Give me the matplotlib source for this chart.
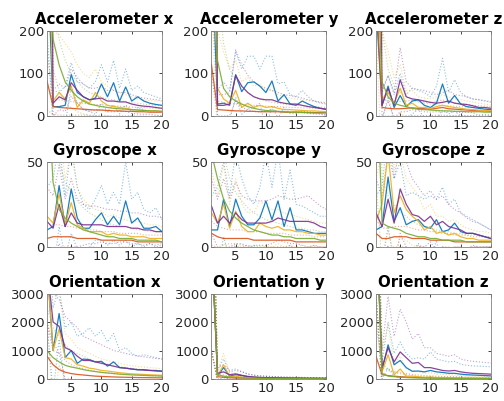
import matplotlib
matplotlib.use("Agg")
import matplotlib.pyplot as plt
import numpy as np

# order of the series: blue, orange, yellow, purple, green (MATLAB default colours)
series_colors = ["#0072BD", "#D95319", "#EDB120", "#7E2F8E", "#77AC30"]
lags = np.arange(1, 21)

titles = ["Accelerometer x", "Accelerometer y", "Accelerometer z",
          "Gyroscope x", "Gyroscope y", "Gyroscope z",
          "Orientation x", "Orientation y", "Orientation z"]
y_limits = [200, 200, 200, 50, 50, 50, 3000, 3000, 3000]
y_ticks = [[0, 100, 200]] * 3 + [[0, 50]] * 3 + [[0, 1000, 2000, 3000]] * 3

# solid lines (mean) and the upper dotted lines (mean + spread) for each panel
acc_x_mean = [
    [400, 22, 22, 25, 97, 55, 45, 38, 42, 75, 45, 78, 35, 68, 35, 45, 35, 30, 27, 25],
    [82, 22, 20, 19, 18, 17, 16, 15, 14, 14, 13, 12, 12, 11, 11, 10, 10, 9, 9, 9],
    [600, 35, 55, 40, 70, 20, 38, 30, 55, 35, 25, 22, 20, 18, 15, 14, 13, 12, 12, 11],
    [2000, 30, 45, 38, 78, 60, 45, 38, 40, 42, 35, 35, 33, 33, 28, 25, 23, 22, 20, 18],
    [400, 180, 120, 80, 60, 45, 35, 28, 25, 22, 20, 18, 17, 16, 15, 14, 13, 12, 12, 11],
]
acc_x_upper = [
    [600, 60, 55, 70, 125, 80, 75, 65, 80, 120, 80, 130, 65, 110, 60, 70, 55, 50, 45, 40],
    [150, 40, 38, 36, 34, 32, 30, 28, 27, 26, 25, 24, 23, 22, 21, 20, 20, 19, 18, 18],
    [600, 200, 190, 170, 150, 120, 100, 90, 110, 80, 70, 60, 55, 50, 45, 40, 38, 36, 35, 35],
    [2600, 60, 75, 65, 110, 90, 75, 65, 65, 70, 60, 60, 55, 55, 50, 45, 42, 40, 38, 36],
    [700, 250, 180, 130, 100, 80, 65, 55, 50, 45, 40, 38, 35, 33, 31, 30, 28, 26, 25, 24],
]

acc_y_mean = [
    [400, 28, 30, 25, 97, 57, 78, 80, 70, 55, 82, 35, 50, 28, 25, 35, 28, 22, 18, 15],
    [120, 15, 14, 13, 12, 12, 11, 11, 10, 10, 10, 10, 9, 9, 9, 9, 8, 8, 8, 8],
    [600, 65, 40, 30, 60, 20, 30, 20, 25, 20, 22, 18, 15, 15, 14, 13, 12, 12, 11, 10],
    [2000, 25, 25, 28, 95, 70, 55, 45, 40, 38, 38, 33, 30, 28, 28, 25, 22, 20, 18, 16],
    [500, 130, 65, 45, 35, 28, 22, 18, 15, 13, 12, 11, 10, 9, 9, 8, 8, 7, 7, 7],
]
acc_y_upper = [
    [700, 60, 80, 60, 150, 110, 140, 140, 110, 140, 140, 75, 80, 50, 45, 60, 45, 35, 30, 28],
    [300, 35, 32, 30, 28, 27, 26, 25, 24, 23, 22, 22, 21, 20, 20, 19, 19, 18, 18, 18],
    [900, 200, 150, 110, 130, 80, 90, 70, 75, 60, 60, 50, 45, 42, 40, 38, 36, 35, 33, 32],
    [2600, 50, 50, 55, 155, 120, 95, 80, 70, 65, 60, 55, 50, 48, 45, 42, 38, 35, 32, 30],
    [1000, 300, 170, 110, 85, 70, 55, 45, 40, 35, 32, 30, 28, 26, 25, 24, 23, 22, 21, 20],
]

acc_z_mean = [
    [260, 25, 70, 20, 48, 22, 35, 38, 25, 20, 30, 75, 30, 48, 28, 22, 20, 18, 16, 15],
    [300, 20, 18, 17, 17, 18, 19, 18, 17, 16, 18, 20, 17, 16, 15, 14, 13, 12, 12, 11],
    [600, 40, 55, 30, 65, 25, 30, 20, 20, 18, 22, 25, 22, 20, 18, 16, 15, 14, 13, 12],
    [2000, 25, 65, 25, 85, 45, 40, 38, 35, 32, 30, 32, 35, 30, 28, 27, 24, 20, 20, 18],
    [400, 80, 45, 30, 25, 22, 18, 16, 15, 14, 13, 12, 12, 11, 11, 10, 10, 10, 9, 9],
]
acc_z_upper = [
    [600, 60, 95, 50, 100, 50, 65, 60, 55, 45, 70, 135, 55, 85, 55, 45, 40, 38, 35, 32],
    [600, 40, 36, 34, 34, 35, 37, 35, 33, 31, 34, 38, 33, 31, 29, 27, 25, 24, 23, 22],
    [1000, 200, 150, 90, 120, 60, 60, 45, 42, 40, 45, 50, 45, 40, 38, 35, 33, 30, 28, 26],
    [2600, 55, 95, 55, 160, 80, 65, 62, 60, 55, 50, 55, 60, 50, 48, 45, 40, 38, 36, 34],
    [900, 200, 110, 70, 55, 45, 38, 33, 30, 28, 26, 25, 24, 23, 22, 21, 20, 20, 19, 18],
]

gyr_x_mean = [
    [10, 12, 36, 12, 34, 17, 11, 11, 16, 20, 13, 18, 13, 27, 14, 17, 11, 11, 12, 9],
    [5, 6, 6, 6, 6, 5, 5, 5, 5, 4, 4, 4, 4, 4, 4, 3, 3, 3, 3, 3],
    [18, 14, 31, 13, 26, 13, 11, 9, 9, 9, 7, 8, 7, 7, 6, 6, 6, 5, 5, 5],
    [15, 11, 25, 12, 20, 14, 13, 13, 13, 13, 12, 12, 12, 12, 11, 11, 10, 10, 9, 9],
    [100, 38, 22, 17, 14, 12, 10, 9, 8, 7, 6, 6, 5, 5, 5, 4, 4, 4, 4, 3],
]
gyr_x_upper = [
    [35, 40, 60, 30, 60, 35, 25, 22, 28, 36, 25, 32, 25, 50, 28, 32, 22, 20, 23, 16],
    [12, 13, 13, 12, 12, 11, 11, 10, 10, 9, 9, 9, 8, 8, 8, 8, 7, 7, 7, 7],
    [60, 50, 70, 40, 55, 35, 28, 24, 22, 21, 18, 19, 17, 16, 15, 15, 14, 13, 13, 12],
    [35, 30, 48, 28, 40, 28, 25, 24, 24, 23, 22, 22, 21, 21, 20, 20, 19, 18, 18, 17],
    [200, 80, 50, 38, 32, 27, 23, 20, 18, 16, 14, 13, 12, 12, 11, 10, 10, 9, 9, 9],
]

gyr_y_mean = [
    [10, 10, 28, 12, 28, 18, 13, 13, 17, 27, 16, 27, 12, 23, 10, 10, 9, 8, 8, 8],
    [8, 6, 5, 5, 5, 5, 5, 4, 4, 4, 4, 4, 4, 4, 3, 3, 3, 3, 3, 3],
    [20, 14, 25, 11, 21, 12, 9, 9, 14, 12, 11, 12, 10, 10, 9, 9, 8, 8, 7, 7],
    [24, 14, 18, 14, 20, 16, 14, 14, 14, 14, 15, 17, 16, 15, 15, 15, 15, 14, 12, 11],
    [55, 40, 28, 21, 17, 14, 12, 10, 9, 8, 7, 7, 6, 6, 5, 5, 5, 5, 4, 4],
]
gyr_y_upper = [
    [30, 35, 50, 30, 55, 40, 30, 25, 35, 55, 35, 57, 28, 45, 25, 24, 22, 20, 18, 18],
    [15, 12, 11, 10, 10, 10, 9, 9, 9, 8, 8, 8, 8, 7, 7, 7, 7, 6, 6, 6],
    [45, 30, 48, 25, 40, 25, 20, 20, 27, 24, 22, 22, 20, 19, 18, 17, 16, 15, 14, 14],
    [40, 28, 40, 28, 38, 30, 28, 27, 27, 27, 28, 30, 29, 28, 28, 29, 30, 27, 24, 22],
    [150, 80, 55, 40, 32, 27, 23, 20, 18, 16, 15, 14, 13, 12, 11, 11, 10, 10, 9, 9],
]

gyr_z_mean = [
    [10, 12, 41, 15, 23, 13, 15, 16, 12, 11, 16, 9, 10, 14, 9, 8, 8, 7, 6, 5],
    [8, 5, 5, 6, 6, 6, 5, 5, 5, 4, 4, 4, 4, 3, 3, 3, 3, 3, 3, 3],
    [15, 25, 55, 20, 30, 22, 18, 15, 10, 12, 8, 9, 7, 8, 6, 5, 5, 4, 4, 4],
    [20, 12, 28, 14, 34, 25, 19, 18, 15, 18, 13, 15, 12, 11, 10, 8, 8, 7, 6, 5],
    [120, 14, 12, 11, 10, 8, 7, 6, 6, 5, 5, 4, 4, 4, 4, 3, 3, 3, 3, 3],
]
gyr_z_upper = [
    [30, 35, 70, 40, 50, 30, 32, 30, 28, 30, 28, 35, 25, 28, 20, 18, 16, 14, 12, 10],
    [16, 11, 11, 12, 12, 12, 11, 10, 10, 9, 9, 8, 8, 7, 7, 7, 6, 6, 6, 6],
    [40, 55, 100, 45, 55, 40, 35, 30, 22, 25, 18, 18, 15, 16, 13, 11, 10, 9, 9, 8],
    [40, 30, 55, 40, 60, 50, 40, 35, 30, 33, 28, 30, 25, 22, 20, 17, 15, 14, 12, 10],
    [200, 40, 30, 25, 20, 18, 15, 13, 12, 11, 10, 9, 9, 8, 8, 7, 7, 7, 6, 6],
]

ori_x_mean = [
    [4000, 1000, 2300, 750, 1000, 550, 700, 680, 600, 620, 450, 600, 400, 380, 350, 320, 330, 300, 300, 280],
    [800, 500, 330, 240, 190, 160, 140, 120, 100, 90, 80, 72, 65, 60, 55, 50, 48, 45, 42, 40],
    [4000, 1000, 1750, 750, 700, 500, 450, 380, 350, 300, 280, 250, 220, 200, 180, 170, 160, 150, 140, 130],
    [4000, 2000, 1850, 1100, 1000, 800, 650, 650, 600, 550, 500, 450, 400, 380, 350, 330, 310, 300, 280, 270],
    [1000, 750, 600, 480, 420, 380, 330, 290, 260, 230, 210, 190, 170, 155, 145, 135, 125, 115, 110, 100],
]
ori_x_upper = [
    [6000, 2500, 3200, 1800, 2000, 1500, 1600, 1800, 1500, 1700, 1300, 1600, 1000, 1100, 900, 800, 850, 800, 750, 700],
    [2000, 1300, 900, 650, 500, 420, 360, 310, 270, 240, 215, 195, 180, 165, 150, 140, 130, 120, 115, 110],
    [6000, 3000, 3000, 1600, 1400, 1100, 1000, 900, 800, 700, 650, 600, 550, 500, 470, 440, 420, 400, 380, 360],
    [6000, 3000, 2800, 2200, 2000, 1800, 1500, 1400, 1300, 1200, 1100, 1000, 950, 900, 850, 800, 780, 750, 720, 700],
    [2500, 1800, 1500, 1200, 1000, 900, 800, 700, 630, 570, 520, 480, 440, 410, 380, 350, 330, 310, 290, 270],
]

ori_y_mean = [
    [5000, 100, 400, 100, 150, 120, 80, 60, 50, 45, 40, 35, 30, 30, 25, 25, 20, 20, 20, 20],
    [5000, 80, 60, 45, 40, 35, 30, 25, 22, 20, 18, 16, 15, 14, 13, 12, 11, 10, 10, 10],
    [5000, 100, 500, 80, 100, 60, 50, 40, 35, 30, 28, 25, 22, 20, 18, 17, 16, 15, 14, 13],
    [5000, 200, 250, 150, 180, 130, 90, 70, 55, 50, 45, 40, 35, 32, 30, 28, 25, 25, 22, 22],
    [5000, 150, 100, 70, 50, 40, 35, 30, 25, 22, 20, 18, 16, 15, 14, 13, 12, 11, 10, 10],
]
ori_y_upper = [
    [9000, 300, 700, 250, 300, 250, 170, 130, 110, 95, 85, 75, 65, 60, 55, 50, 45, 42, 40, 38],
    [9000, 200, 140, 100, 85, 75, 65, 55, 48, 44, 40, 35, 33, 30, 28, 26, 24, 22, 22, 22],
    [9000, 300, 900, 200, 220, 140, 110, 90, 75, 65, 60, 55, 48, 44, 40, 37, 35, 33, 31, 29],
    [9000, 400, 500, 300, 350, 260, 180, 140, 110, 100, 90, 80, 70, 65, 60, 56, 52, 50, 46, 44],
    [9000, 350, 230, 160, 110, 90, 75, 65, 55, 48, 44, 40, 35, 33, 30, 28, 26, 24, 22, 22],
]

ori_z_mean = [
    [6000, 300, 1200, 500, 650, 400, 270, 280, 250, 300, 250, 230, 200, 200, 170, 150, 140, 130, 120, 110],
    [800, 150, 120, 100, 80, 70, 60, 50, 45, 40, 35, 32, 30, 28, 26, 24, 22, 20, 20, 20],
    [6000, 250, 850, 150, 350, 100, 100, 80, 60, 70, 50, 50, 45, 40, 35, 32, 30, 28, 26, 25],
    [6000, 400, 1100, 600, 950, 750, 550, 580, 400, 400, 350, 300, 280, 300, 250, 220, 200, 190, 180, 170],
    [6000, 200, 100, 80, 60, 50, 40, 35, 30, 28, 25, 22, 20, 18, 17, 16, 15, 14, 13, 12],
]
ori_z_upper = [
    [9000, 600, 2000, 900, 1300, 900, 700, 750, 700, 950, 700, 650, 600, 620, 520, 480, 460, 450, 440, 430],
    [2000, 400, 320, 270, 220, 190, 160, 140, 120, 110, 100, 90, 85, 80, 75, 70, 65, 60, 58, 56],
    [9000, 1000, 1900, 500, 800, 350, 300, 250, 200, 220, 170, 160, 150, 140, 120, 110, 100, 95, 90, 85],
    [9000, 1000, 2900, 1500, 2450, 2000, 1400, 1600, 1100, 1100, 900, 850, 800, 850, 700, 650, 620, 600, 580, 560],
    [9000, 600, 300, 230, 180, 150, 120, 100, 90, 80, 70, 65, 60, 55, 50, 48, 45, 42, 40, 38],
]

panel_means = [acc_x_mean, acc_y_mean, acc_z_mean,
               gyr_x_mean, gyr_y_mean, gyr_z_mean,
               ori_x_mean, ori_y_mean, ori_z_mean]
panel_uppers = [acc_x_upper, acc_y_upper, acc_z_upper,
                gyr_x_upper, gyr_y_upper, gyr_z_upper,
                ori_x_upper, ori_y_upper, ori_z_upper]


def main() -> int:
    plt.rcParams["font.family"] = "DejaVu Sans"
    fig = plt.figure(figsize=(5.04, 4.01), dpi=100)

    lefts = [0.0933, 0.4196, 0.746]
    bottoms = [0.7107, 0.384, 0.0549]
    width, height = 0.228, 0.213
    axis_grey = "#262626"

    for i in range(9):
        row, col = divmod(i, 3)
        ax = fig.add_axes([lefts[col], bottoms[row], width, height])
        means = np.array(panel_means[i], dtype=float)
        uppers = np.array(panel_uppers[i], dtype=float)
        lowers = 2 * means - uppers

        for k, color in enumerate(series_colors):
            ax.plot(lags, uppers[k], ":", color=color, lw=0.8, alpha=0.45)
            ax.plot(lags, lowers[k], ":", color=color, lw=0.8, alpha=0.45)
        for k, color in enumerate(series_colors):
            ax.plot(lags, means[k], "-", color=color, lw=0.9, alpha=0.9)

        ax.set_xlim(1, 20)
        ax.set_ylim(0, y_limits[i])
        ax.set_xticks([5, 10, 15, 20])
        ax.set_yticks(y_ticks[i])
        ax.tick_params(direction="in", length=2.5, width=0.6, top=True, right=True,
                       labelsize=9.5, colors=axis_grey, pad=2)
        for spine in ax.spines.values():
            spine.set_color("#808080")
            spine.set_linewidth(0.6)
        ax.set_title(titles[i], fontsize=10.8, fontweight="bold", pad=5)

    fig.savefig("out.png", dpi=100)
    return 0


if __name__ == "__main__":
    raise SystemExit(main())
